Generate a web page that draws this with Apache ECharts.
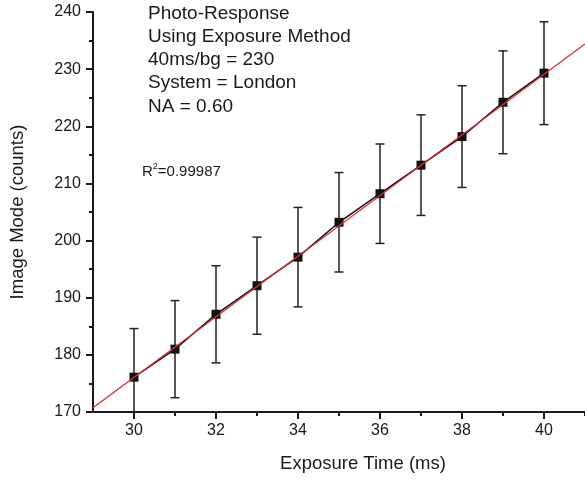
<!DOCTYPE html>
<html>
<head>
<meta charset="utf-8">
<title>Photo-Response</title>
<script src="https://cdn.jsdelivr.net/npm/echarts@6/dist/echarts.min.js"></script>
<style>
  html, body { margin: 0; padding: 0; background: #fff; }
  #main { width: 585px; height: 480px; }
</style>
</head>
<body>
<div id="main"></div>
<script>
// data
var exposure = [30, 31, 32, 33, 34, 35, 36, 37, 38, 39, 40];
var imageMode = [176.1, 181, 187.1, 192.1, 197.1, 203.2, 208.2, 213.2, 218.2, 224.2, 229.3];
var errSize = [8.5, 8.5, 8.5, 8.5, 8.7, 8.7, 8.7, 8.8, 8.9, 9, 9];
// linear fit, ends of the red line
var fitX = [29, 41];
var fitY = [170.75, 234.4];
var xLabels = [30, 32, 34, 36, 38, 40];
var xMinor = [31, 33, 35, 37, 39, 41];
var notes = ['Photo-Response', 'Using Exposure Method', '40ms/bg = 230', 'System = London', 'NA = 0.60'];

var font = '"Liberation Sans", Arial, sans-serif';
var ink = '#1a1a1a';

var points = [], bars = [], fit = [];
for (var i = 0; i < exposure.length; i++) {
    points.push([exposure[i], imageMode[i]]);
    bars.push([exposure[i], imageMode[i] - errSize[i], imageMode[i] + errSize[i]]);
}
for (var j = 0; j < fitX.length; j++) fit.push([fitX[j], fitY[j]]);

var myChart = echarts.init(document.getElementById('main'));

var option = {
    animation: false,
    backgroundColor: '#fff',
    grid: { left: 93, right: 0, top: 12, bottom: 68 },
    xAxis: [
        {
            type: 'value', min: 29, max: 41, interval: 1,
            axisLine: { lineStyle: { color: ink, width: 2 } },
            axisTick: { customValues: xLabels, length: 7, lineStyle: { color: ink, width: 2 } },
            axisLabel: { customValues: xLabels, margin: 11, fontSize: 16, fontFamily: font, color: ink },
            splitLine: { show: false },
            name: 'Exposure Time (ms)', nameLocation: 'middle', nameGap: 42,
            nameTextStyle: { fontSize: 18.5, fontFamily: font, color: ink, padding: [0, 0, 0, 48] }
        },
        {
            type: 'value', min: 29, max: 41, interval: 1, position: 'bottom',
            axisLine: { show: false },
            axisTick: { customValues: xMinor, length: 4, lineStyle: { color: ink, width: 2 } },
            axisLabel: { show: false },
            splitLine: { show: false }
        }
    ],
    yAxis: {
        type: 'value', min: 170, max: 240, interval: 10,
        axisLine: { show: true, lineStyle: { color: ink, width: 2 } },
        axisTick: { show: true, length: 7, lineStyle: { color: ink, width: 2 } },
        minorTick: { show: true, splitNumber: 2, length: 4, lineStyle: { color: ink, width: 2 } },
        axisLabel: { margin: 12, fontSize: 16, fontFamily: font, color: ink },
        splitLine: { show: false },
        name: 'Image Mode (counts)', nameLocation: 'middle', nameGap: 66,
        nameTextStyle: { fontSize: 18.5, fontFamily: font, color: ink }
    },
    graphic: [
        {
            type: 'text', left: 148, top: 2,
            style: { text: notes.join('\n'), fontSize: 19, lineHeight: 23.2, fontFamily: font, fill: ink }
        },
        {
            type: 'text', left: 142, top: 162,
            style: {
                text: '{a|R}{s|2}{a|=0.99987}',
                fontFamily: font, fill: ink,
                rich: {
                    a: { fontSize: 15, fontFamily: font, color: ink, lineHeight: 19 },
                    s: { fontSize: 9, fontFamily: font, color: ink, lineHeight: 19, verticalAlign: 'top' }
                }
            }
        }
    ],
    series: [
        {
            type: 'custom',
            clip: true,
            z: 2,
            renderItem: function (params, api) {
                var x = api.value(0);
                var lo = api.coord([x, api.value(1)]);
                var hi = api.coord([x, api.value(2)]);
                var w = 4.5;
                var st = { stroke: '#222', lineWidth: 1.5 };
                return {
                    type: 'group',
                    children: [
                        { type: 'line', shape: { x1: lo[0], y1: lo[1], x2: hi[0], y2: hi[1] }, style: st },
                        { type: 'line', shape: { x1: hi[0] - w, y1: hi[1], x2: hi[0] + w, y2: hi[1] }, style: st },
                        { type: 'line', shape: { x1: lo[0] - w, y1: lo[1], x2: lo[0] + w, y2: lo[1] }, style: st }
                    ]
                };
            },
            encode: { x: 0, y: [1, 2] },
            data: bars
        },
        {
            type: 'line',
            z: 3,
            data: points,
            symbol: 'rect',
            symbolSize: 9,
            itemStyle: { color: '#111' },
            lineStyle: { color: '#111', width: 1.5 }
        },
        {
            type: 'line',
            z: 4,
            data: fit,
            symbol: 'none',
            lineStyle: { color: '#dc2f3a', width: 1.4 }
        }
    ]
};

myChart.setOption(option);
</script>
</body>
</html>
